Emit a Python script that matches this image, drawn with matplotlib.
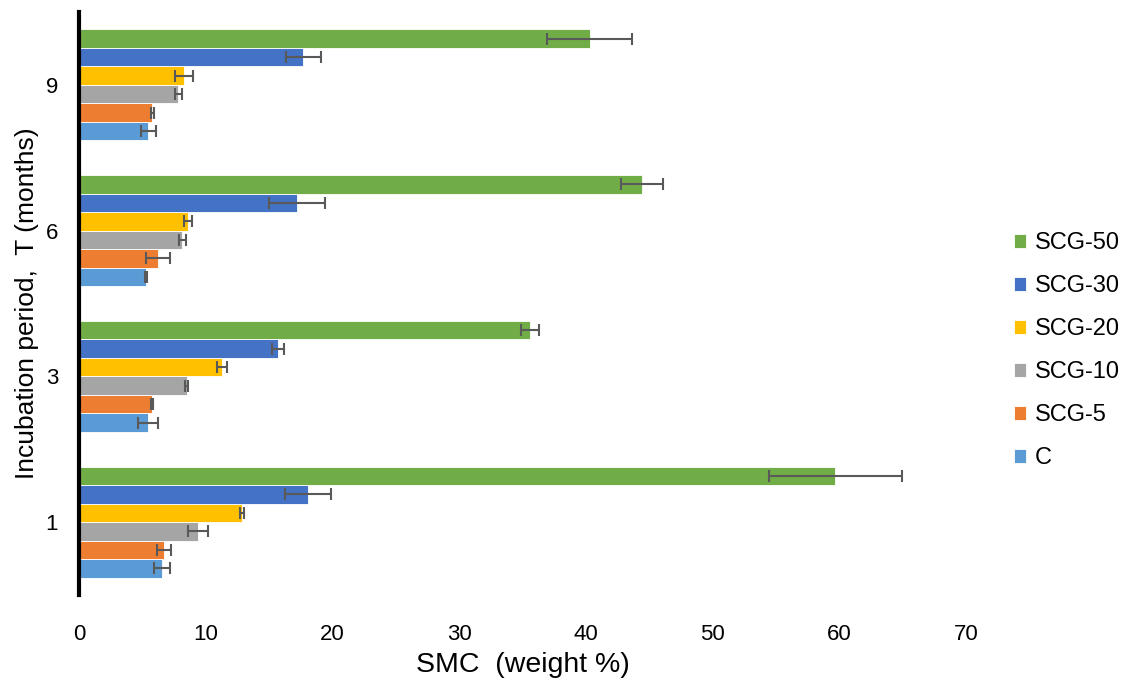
import matplotlib
matplotlib.use("Agg")
import matplotlib.pyplot as plt
import numpy as np

plt.rcParams['font.family'] = ['Liberation Sans', 'DejaVu Sans']

periods = ["1", "3", "6", "9"]
series = ["C", "SCG-5", "SCG-10", "SCG-20", "SCG-30", "SCG-50"]
colors = ["#5B9BD5", "#ED7D31", "#A5A5A5", "#FFC000", "#4472C4", "#70AD47"]

# SMC means per series, ordered by incubation period (1, 3, 6, 9 months)
c_vals = [6.56, 5.46, 5.28, 5.46]
scg5_vals = [6.70, 5.78, 6.25, 5.78]
scg10_vals = [9.40, 8.49, 8.14, 7.83]
scg20_vals = [12.87, 11.27, 8.60, 8.27]
scg30_vals = [18.07, 15.70, 17.20, 17.70]
scg50_vals = [59.70, 35.60, 44.40, 40.30]

# Standard deviations
c_err = [0.65, 0.79, 0.05, 0.59]
scg5_err = [0.58, 0.08, 0.96, 0.10]
scg10_err = [0.81, 0.10, 0.28, 0.26]
scg20_err = [0.17, 0.41, 0.29, 0.71]
scg30_err = [1.81, 0.49, 2.20, 1.38]
scg50_err = [5.25, 0.74, 1.65, 3.37]

values = [c_vals, scg5_vals, scg10_vals, scg20_vals, scg30_vals, scg50_vals]
errors = [c_err, scg5_err, scg10_err, scg20_err, scg30_err, scg50_err]

fig = plt.figure(figsize=(11.29, 6.89), dpi=100)
ax = fig.add_axes([0.070, 0.1364, 0.7856, 0.8462])

n = len(series)
group_h = 0.76
bar_h = group_h / n
y = np.arange(len(periods))

handles = []
for i, (name, col, vals, errs) in enumerate(zip(series, colors, values, errors)):
    pos = y - group_h / 2 + bar_h * (i + 0.5)
    h = ax.barh(pos, vals, height=bar_h, color=col, edgecolor="white",
                linewidth=0.6, label=name, zorder=2)
    ax.errorbar(vals, pos, xerr=errs, fmt="none", ecolor="#595959",
                elinewidth=1.5, capsize=4.5, capthick=1.5, zorder=3)
    handles.append(h)

ax.set_xlim(0, 70)
ax.set_ylim(-0.5, len(periods) - 0.5)
ax.set_xticks(range(0, 71, 10))
ax.set_yticks(y)
ax.set_yticklabels(periods)
ax.tick_params(axis="both", length=0, labelsize=16)
ax.tick_params(axis="x", pad=21)
ax.tick_params(axis="y", pad=15)

for side in ["top", "right", "bottom"]:
    ax.spines[side].set_visible(False)
ax.spines["left"].set_linewidth(3)
ax.spines["left"].set_color("black")

ax.set_xlabel("SMC  (weight %)", fontsize=20.5, labelpad=5)
ax.set_ylabel("Incubation period,  T (months)", fontsize=19, labelpad=5)

leg = fig.legend(handles[::-1], series[::-1], loc="center left",
                 bbox_to_anchor=(0.898, 0.491), frameon=False, fontsize=17,
                 handlelength=0.5, handleheight=0.5, labelspacing=0.89,
                 handletextpad=0.38, borderaxespad=0, borderpad=0)

fig.savefig("out.png", dpi=100)
